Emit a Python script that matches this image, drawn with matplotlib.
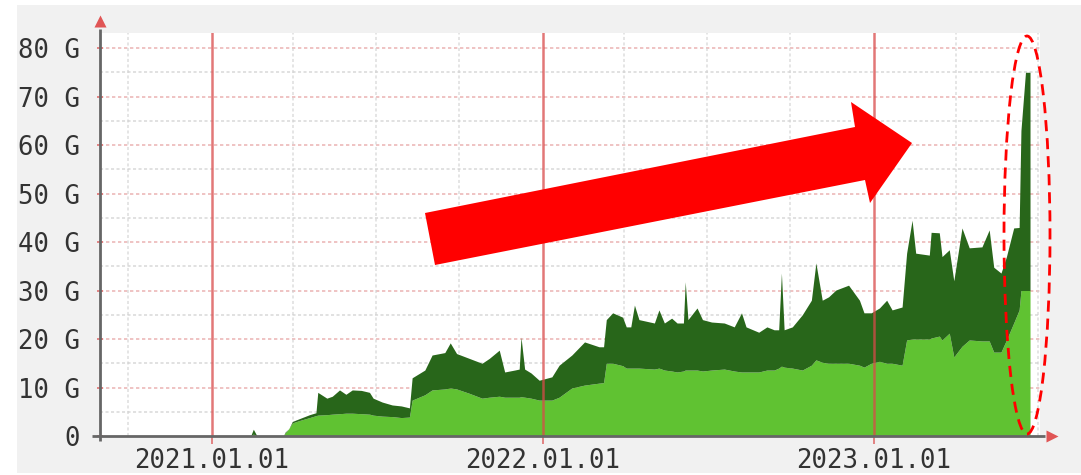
import numpy as np
import matplotlib
matplotlib.use("Agg")
import matplotlib.pyplot as plt
from matplotlib.patches import Polygon, Ellipse, Rectangle

# ---------------- data (days since 2021-01-01, values in G) ----------------
days = [31, 43, 46, 50, 79, 81, 85, 89, 97, 108, 115, 117, 127, 133, 141, 148,
        155, 165, 174, 178, 188, 199, 209, 218, 221, 235, 243, 257, 263, 270,
        284, 298, 306, 317, 323, 334, 339, 341, 345, 352, 361, 375, 383, 397,
        411, 427, 432, 435, 442, 453, 457, 462, 466, 471, 488, 493, 499, 507,
        513, 520, 522, 525, 535, 541, 551, 565, 576, 584, 589, 603, 612, 620,
        625, 628, 631, 640, 651, 661, 666, 673, 680, 688, 702, 714, 719, 727,
        736, 744, 750, 761, 766, 772, 776, 791, 793, 802, 805, 813, 818, 827,
        835, 849, 857, 862, 870, 876, 884, 890, 892, 897, 901, 902]
total = [0, 0, 1.4, 0, 0, 0.8, 1.5, 3.0, 3.6, 4.4, 4.8, 9.0, 7.8, 8.2, 9.5, 8.6,
         9.5, 9.4, 9.0, 7.8, 7.0, 6.4, 6.2, 5.8, 12.0, 13.6, 16.7, 17.2, 19.2, 17.0,
         16.0, 15.0, 16.0, 17.7, 13.2, 13.6, 13.8, 20.4, 13.8, 13.0, 11.5, 12.2, 14.6, 16.7,
         19.4, 18.4, 18.4, 24.0, 25.4, 24.5, 22.5, 22.5, 27.0, 24.0, 23.3, 26.0, 23.3, 24.3,
         23.3, 23.3, 31.8, 24.0, 26.4, 24.0, 23.5, 23.3, 22.5, 25.4, 22.5, 21.4, 22.5, 21.9,
         21.9, 33.6, 21.9, 22.5, 25.0, 28.0, 35.7, 28.0, 28.7, 30.1, 31.1, 28.0, 25.4, 25.4,
         26.4, 28.0, 26.0, 26.6, 37.7, 44.5, 37.7, 37.3, 42.0, 41.9, 37.0, 38.4, 32.0, 42.9,
         38.8, 39.0, 42.5, 34.8, 33.6, 37.0, 42.9, 43.0, 63.0, 75.0, 75.0, 75.0]
lower = [0, 0, 0.4, 0, 0, 0.6, 1.5, 2.7, 3.2, 3.8, 4.2, 4.3, 4.4, 4.5, 4.6, 4.7,
         4.7, 4.6, 4.5, 4.3, 4.1, 4.0, 3.8, 3.9, 7.4, 8.5, 9.5, 9.7, 9.9, 9.7,
         8.8, 7.8, 8.0, 8.2, 8.0, 8.0, 8.0, 8.1, 8.0, 7.8, 7.4, 7.4, 8.0, 9.9,
         10.5, 10.9, 11.0, 15.0, 15.0, 14.5, 14.0, 14.0, 14.0, 14.0, 13.8, 14.0, 13.6, 13.4,
         13.2, 13.4, 13.6, 13.6, 13.6, 13.4, 13.6, 13.8, 13.4, 13.2, 13.2, 13.2, 13.6, 13.6,
         14.0, 14.4, 14.2, 14.0, 13.6, 14.6, 15.7, 15.2, 15.0, 15.0, 15.0, 14.6, 14.2, 15.0,
         15.4, 15.0, 15.0, 14.6, 19.8, 20.0, 20.0, 20.0, 20.2, 20.6, 19.8, 21.2, 16.3, 18.5,
         19.8, 19.6, 19.6, 17.3, 17.3, 19.8, 23.3, 26.0, 30.0, 30.0, 30.0, 30.0]

year_ticks = ["2021-01-01", "2022-01-01", "2023-01-01"]
year_labels = ["2021.01.01", "2022.01.01", "2023.01.01"]
quarter_lines = ["2020-10-01", "2021-04-01", "2021-07-01", "2021-10-01",
                 "2022-04-01", "2022-07-01", "2022-10-01", "2023-04-01", "2023-07-01"]
y_ticks = [0, 10, 20, 30, 40, 50, 60, 70, 80]
y_labels = ["0", "10 G", "20 G", "30 G", "40 G", "50 G", "60 G", "70 G", "80 G"]

# ---------------- figure ----------------
W, H = 1081, 475
fig = plt.figure(figsize=(W / 100, H / 100), dpi=100)
fig.patch.set_facecolor("white")
fig.patches.append(Rectangle((17 / W, 2 / H), 1 - 17 / W, 1 - 7 / H,
                             transform=fig.transFigure, facecolor="#f1f1f1",
                             edgecolor="none", zorder=-10))

ax = fig.add_axes([100 / W, 39 / H, 940 / W, 403 / H])
ax.set_facecolor("white")
for s in ax.spines.values():
    s.set_visible(False)

base = np.datetime64("2021-01-01")
dates = base + np.array(days).astype("timedelta64[D]")
lower_a = np.array(lower)
total_a = np.array(total)

light = "#60c232"
dark = "#28661a"
ax.fill_between(dates, 0, lower_a, color=light, lw=0, zorder=2)
ax.fill_between(dates, lower_a, total_a, color=dark, lw=0, zorder=2)

ax.set_xlim(base - np.timedelta64(123, "D"), base + np.timedelta64(913, "D"))
ax.set_ylim(0, 83.1)

# grid (under the areas)
for v in range(5, 85, 10):
    ax.axhline(v, color="#cccccc", lw=1.1, ls=(0, (2, 1.6)), zorder=1, alpha=0.75)
for v in range(10, 90, 10):
    ax.axhline(v, color="#e7a2a2", lw=1.2, ls=(0, (2, 1.6)), zorder=1, alpha=0.75)
for q in quarter_lines:
    ax.axvline(np.datetime64(q), color="#d2d2d2", lw=1.1, ls=(0, (2, 1.6)), zorder=1, alpha=0.75)
for y in year_ticks:
    ax.axvline(np.datetime64(y), color="#d94a4a", lw=1.8, zorder=4, alpha=0.75)

# ticks
mono = "DejaVu Sans Mono"
ax.set_yticks(y_ticks)
ax.set_yticklabels(y_labels, fontfamily=mono, fontsize=18.5, color="#333333")
ax.set_xticks([np.datetime64(y) for y in year_ticks])
ax.set_xticklabels(year_labels, fontfamily=mono, fontsize=18.5, color="#333333")
ax.tick_params(axis="y", length=5, width=1.2, color="#e07070", pad=12, direction="inout")
ax.tick_params(axis="x", length=6, width=1.2, color="#e07070", pad=3, direction="out")

# axis lines with arrow heads
ax.plot([-0.009, 1.005], [0, 0], transform=ax.transAxes, color="#666666",
        lw=2, clip_on=False, zorder=5, solid_capstyle="butt")
ax.plot([1.013], [0], transform=ax.transAxes, marker=">", ms=9, color="#e05555",
        mec="none", clip_on=False, zorder=6)
ax.plot([0, 0], [-0.012, 1.01], transform=ax.transAxes, color="#666666",
        lw=2, clip_on=False, zorder=5, solid_capstyle="butt")
ax.plot([0], [1.03], transform=ax.transAxes, marker="^", ms=9, color="#e05555",
        mec="none", clip_on=False, zorder=6)

# annotations: big red arrow and dashed ellipse (pixel positions)
def px(x, y):
    return (x / W, 1 - y / H)

arrow_pts = [px(425, 213), px(855, 127), px(851, 102), px(912, 143),
             px(870, 203), px(865, 180), px(435, 265)]
fig.patches.append(Polygon(arrow_pts, closed=True, transform=fig.transFigure,
                           facecolor="#ff0000", edgecolor="none", zorder=20))
ell = Ellipse(px(1027, 235), 46 / W, 398 / H, transform=fig.transFigure,
              facecolor="none", edgecolor="#ff0000", lw=2, ls=(0, (4, 2.5)), zorder=20)
fig.patches.append(ell)

fig.savefig("out.png", dpi=100)
